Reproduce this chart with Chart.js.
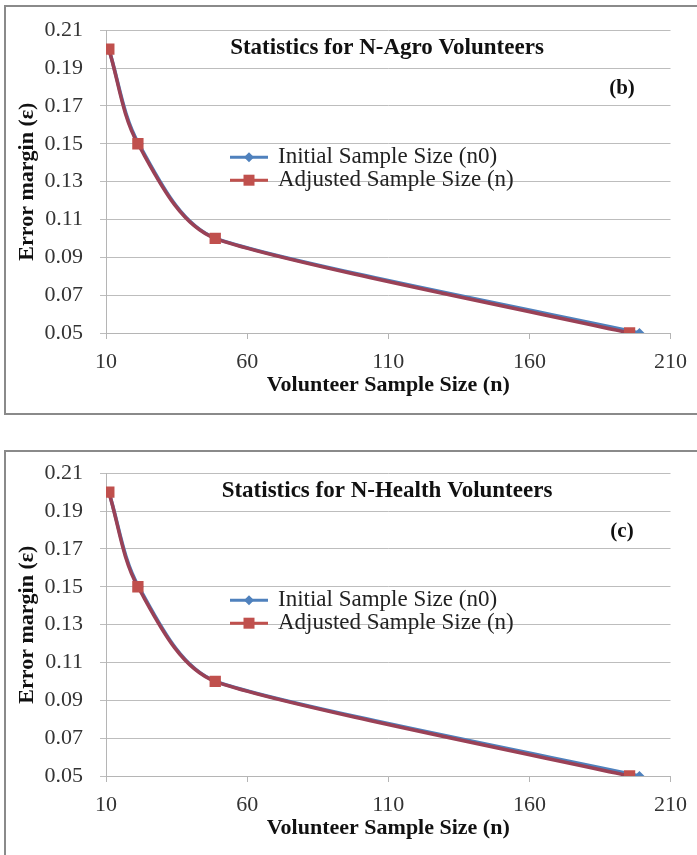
<!DOCTYPE html>
<html>
<head>
<meta charset="utf-8">
<script src="https://cdn.jsdelivr.net/npm/chart.js@4.4.0/dist/chart.umd.min.js"></script>
<style>
  body { margin: 0; background: #fff; overflow: hidden; width: 697px; height: 855px; position: relative; }
  .frame { position: absolute; left: 4px; width: 700px; border: 2px solid #8a8a8a; box-sizing: border-box; }
  .wrap { position: absolute; left: 0; width: 697px; height: 420px; }
</style>
</head>
<body>
<div class="frame" style="top:5px;height:410px;"></div>
<div class="frame" style="top:450px;height:420px;"></div>
<div class="wrap" style="top:0px;"><canvas id="agroChart" width="697" height="420"></canvas></div>
<div class="wrap" style="top:443px;"><canvas id="healthChart" width="697" height="420"></canvas></div>
<script>
// -----------------------------
// Data
// -----------------------------
const errorMargins = [0.20, 0.15, 0.10, 0.05];
const initialSizes = [11, 21.6, 49, 199];      // n0
const adjustedSizes = [11, 21.3, 48.7, 195.5]; // n
const yTicks = [0.05, 0.07, 0.09, 0.11, 0.13, 0.15, 0.17, 0.19, 0.21];
const xTicks = [10, 60, 110, 160, 210];
const seriesLabels = ['Initial Sample Size (n0)', 'Adjusted Sample Size (n)'];

const BLUE = '#4F81BD';
const RED = '#C0504D';
const FONT = "'Liberation Serif', 'Times New Roman', serif";

function toPoints(xs) {
    return xs.map((x, i) => ({ x: x, y: errorMargins[i] }));
}

// smoothed line: rounder bend for the first segments, flatter tail
function seriesDatasets(label, xs, lineColor, markColor, pointStyle, radius, orderBase) {
    const lastSeg = xs.length - 2;
    const common = {
        data: toPoints(xs),
        borderWidth: 3.5,
        borderCapStyle: 'round',
        backgroundColor: markColor,
        pointBackgroundColor: markColor,
        pointBorderWidth: 0
    };
    return [
        Object.assign({}, common, {
            label: label,
            showInLegend: true,
            borderColor: lineColor,
            tension: 0.33,
            pointStyle: pointStyle,
            pointRadius: radius,
            segment: { borderColor: c => c.p0DataIndex >= lastSeg ? 'rgba(0,0,0,0)' : lineColor },
            order: orderBase
        }),
        Object.assign({}, common, {
            label: label + ' tail',
            borderColor: lineColor,
            tension: 0.15,
            pointRadius: 0,
            segment: { borderColor: c => c.p0DataIndex < lastSeg ? 'rgba(0,0,0,0)' : lineColor },
            order: orderBase + 1
        })
    ];
}

// -----------------------------
// Title + legend drawn inside the plot
// -----------------------------
const insidePlugin = {
    id: 'inside',
    afterDraw(chart, args, opts) {
        const ctx = chart.ctx;
        const a = chart.chartArea;
        ctx.save();
        ctx.fillStyle = '#111';
        ctx.textBaseline = 'middle';
        ctx.font = 'bold 23px ' + FONT;
        ctx.textAlign = 'center';
        ctx.fillText(opts.title, a.left + 281, a.top + 18);
        ctx.font = 'bold 21px ' + FONT;
        ctx.fillText(opts.tag, a.left + 516, a.top + 58);

        // legend
        ctx.textAlign = 'left';
        ctx.font = '23px ' + FONT;
        chart.data.datasets.filter(ds => ds.showInLegend).forEach((ds, i) => {
            const y = a.top + 127 + i * 23;
            const x0 = a.left + 124, x1 = a.left + 162;
            ctx.strokeStyle = ds.pointBackgroundColor;
            ctx.lineWidth = 3;
            ctx.beginPath();
            ctx.moveTo(x0, y);
            ctx.lineTo(x1, y);
            ctx.stroke();
            ctx.fillStyle = ds.pointBackgroundColor;
            const cx = (x0 + x1) / 2;
            ctx.beginPath();
            if (ds.pointStyle === 'rect') {
                ctx.rect(cx - 5.5, y - 5.5, 11, 11);
            } else {
                ctx.moveTo(cx, y - 5); ctx.lineTo(cx + 5, y); ctx.lineTo(cx, y + 5); ctx.lineTo(cx - 5, y);
                ctx.closePath();
            }
            ctx.fill();
            ctx.fillStyle = '#222';
            ctx.fillText(ds.label, a.left + 172, y);
        });
        ctx.restore();
    }
};

// -----------------------------
// Build one chart
// -----------------------------
function buildChart(id, title, tag) {
    const ctx = document.getElementById(id).getContext('2d');
    const datasets = [].concat(
        seriesDatasets(seriesLabels[0], initialSizes, BLUE, BLUE, 'rectRot', 5, 3),
        seriesDatasets(seriesLabels[1], adjustedSizes, '#9A4156', RED, 'rect', 8, 1)
    );
    return new Chart(ctx, {
        type: 'line',
        data: { datasets: datasets },
        options: {
            responsive: false,
            animation: false,
            layout: { padding: { top: 27, right: 21, left: 0, bottom: 0 } },
            plugins: {
                legend: { display: false },
                tooltip: { enabled: false },
                inside: { title: title, tag: tag }
            },
            scales: {
                x: {
                    type: 'linear',
                    min: xTicks[0],
                    max: xTicks[xTicks.length - 1],
                    afterFit: s => { s.height = 87; },
                    afterBuildTicks: s => { s.ticks = xTicks.map(v => ({ value: v })); },
                    grid: { display: true, drawOnChartArea: false, color: '#b5b5b5', tickLength: 6 },
                    border: { color: '#b5b5b5', width: 1 },
                    ticks: { color: '#333', font: { family: FONT, size: 22 }, padding: 10, maxRotation: 0 },
                    title: {
                        display: true,
                        text: 'Volunteer Sample Size (n)',
                        color: '#111',
                        font: { family: FONT, size: 22, weight: 'bold' },
                        padding: { top: 0, bottom: 21 }
                    }
                },
                y: {
                    type: 'linear',
                    min: yTicks[0],
                    max: yTicks[yTicks.length - 1],
                    afterFit: s => { s.width = 106; },
                    afterBuildTicks: s => { s.ticks = yTicks.map(v => ({ value: v })); },
                    grid: { color: '#bdbdbd', tickLength: 6 },
                    border: { color: '#b5b5b5', width: 1 },
                    ticks: {
                        color: '#333',
                        font: { family: FONT, size: 22 },
                        padding: 17,
                        callback: v => v.toFixed(2)
                    },
                    title: {
                        display: true,
                        text: 'Error margin (ε)',
                        color: '#111',
                        font: { family: FONT, size: 22, weight: 'bold' },
                        padding: { top: 14, bottom: 0 }
                    }
                }
            }
        },
        plugins: [insidePlugin]
    });
}

buildChart('agroChart', 'Statistics for N-Agro Volunteers', '(b)');
buildChart('healthChart', 'Statistics for N-Health Volunteers', '(c)');
</script>
</body>
</html>
